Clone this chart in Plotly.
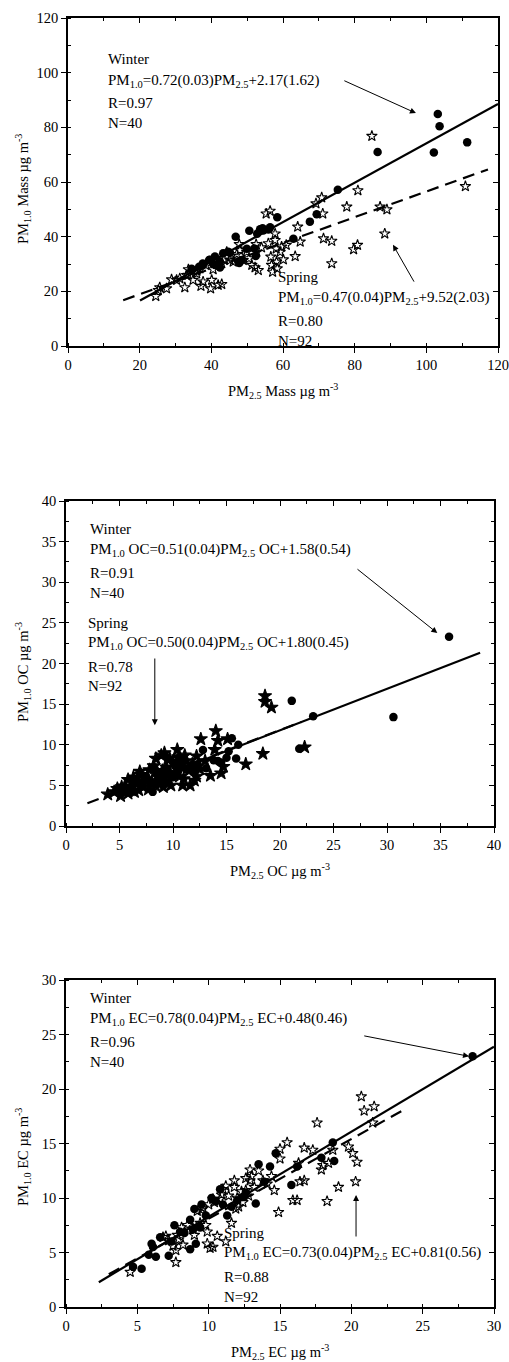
import plotly.graph_objects as go

# ---------------- Panel 1: PM mass ----------------
mass_winter_x = [34.5, 36.6, 37.6, 37.8, 39.4, 39.6, 40.5, 41.0, 41.5, 42.4, 42.4, 43.3, 44.7, 45.2, 46.8,
                 47.5, 47.8, 48.5, 49.9, 50.6, 52.0, 52.4, 52.8, 53.6, 54.3, 54.5, 55.9, 56.4, 58.4, 62.9,
                 67.5, 69.4, 75.3, 86.4, 102.1, 103.2, 103.7, 111.4]
mass_winter_y = [28.3, 29.0, 30.2, 29.9, 31.5, 31.6, 30.0, 32.7, 29.5, 30.9, 28.7, 33.9, 34.5, 34.1, 40.0,
                 30.9, 30.4, 31.5, 35.6, 42.2, 35.7, 32.9, 41.1, 42.7, 43.1, 42.3, 42.6, 43.4, 47.1, 39.2,
                 45.5, 48.2, 57.2, 71.0, 70.8, 84.9, 80.4, 74.5]
mass_spring_x = [24.5, 25.2, 25.6, 27.5, 28.9, 30.3, 31.2, 32.6, 33.1, 33.6, 34.5, 34.9, 35.9, 36.8, 37.1,
                 37.7, 39.8, 40.1, 40.5, 41.9, 42.9, 42.9, 44.3, 45.2, 46.1, 47.1, 47.8, 48.9, 49.9, 51.3,
                 52.2, 52.5, 52.7, 53.1, 55.3, 56.4, 55.9, 56.6, 56.8, 57.1, 57.8, 57.8, 58.1, 58.2, 58.4,
                 59.2, 59.6, 60.1, 60.9, 63.4, 64.1, 64.8, 69.2, 70.8, 71.1, 71.3, 73.6, 73.6, 77.8, 80.9,
                 79.7, 80.8, 84.8, 87.1, 89.0, 88.4, 110.9, 38.5, 43.5, 45.5, 50.5, 54.0, 48.0, 36.0, 33.5]
mass_spring_y = [18.2, 20.4, 21.4, 21.0, 24.3, 24.1, 24.7, 21.4, 25.9, 28.0, 27.1, 24.1, 26.5, 28.3, 21.9,
                 23.5, 21.0, 24.1, 28.0, 22.3, 22.6, 30.2, 34.4, 31.4, 30.8, 33.6, 37.2, 31.4, 34.4, 29.6,
                 28.7, 37.2, 34.4, 27.7, 48.4, 49.4, 37.5, 32.6, 29.6, 27.1, 41.1, 38.7, 35.6, 30.8, 28.3,
                 34.4, 36.3, 31.6, 36.9, 32.8, 43.6, 38.1, 52.1, 54.3, 48.4, 39.3, 38.4, 30.2, 50.9, 56.9,
                 35.3, 36.9, 76.8, 50.9, 49.9, 41.1, 58.4, 29.5, 31.5, 33.0, 32.0, 36.0, 35.0, 27.5, 26.0]

# ---------------- Panel 2: OC ----------------
oc_winter_x = [5.0, 5.5, 6.2, 6.8, 7.3, 7.5, 7.9, 8.1, 8.5, 8.8, 9.2, 9.5, 9.8, 10.2, 10.5, 10.8, 11.3, 11.8,
               12.3, 12.8, 13.1, 13.8, 14.5, 15.0, 15.5, 15.9, 16.1, 21.1, 21.8, 23.1, 30.6, 35.8,
               9.0, 10.0, 11.0, 12.0, 14.2, 15.2, 8.3, 6.0]
oc_winter_y = [4.6, 4.3, 5.0, 5.4, 5.5, 6.1, 5.2, 4.2, 6.5, 5.6, 6.2, 7.0, 6.4, 7.4, 6.8, 7.6, 7.0, 7.5,
               7.6, 9.35, 7.1, 8.1, 7.8, 8.4, 10.8, 8.3, 10.0, 15.4, 9.5, 13.5, 13.4, 23.3,
               5.8, 6.0, 8.0, 6.6, 8.0, 9.2, 7.0, 4.3]
oc_spring_x = [3.9, 4.5, 5.1, 5.2, 5.8, 6.3, 6.4, 6.9, 7.8, 8.4, 8.9, 9.1, 9.7, 9.8, 10.4, 10.6, 11.1, 10.9,
               11.6, 12.2, 12.6, 13.9, 14.0, 14.2, 14.5, 14.7, 15.1, 16.8, 18.4, 18.6, 18.6, 19.2, 22.3,
               6.0, 6.6, 7.2, 7.5, 8.0, 8.6, 9.0, 9.4, 9.6, 10.0, 10.2, 10.8, 11.2, 11.5, 11.8, 12.0, 12.5,
               13.0, 5.5, 4.8, 7.0, 8.2, 9.5, 10.5, 11.0, 7.7, 6.3, 8.8, 13.5, 12.2, 9.2, 10.6, 5.8, 6.8, 8.4]
oc_spring_y = [3.9, 4.2, 3.7, 4.8, 5.7, 5.7, 4.2, 6.7, 6.9, 8.3, 8.7, 4.8, 8.3, 5.0, 9.4, 6.1, 8.7, 5.0,
               5.0, 6.1, 10.7, 9.4, 11.7, 10.5, 6.5, 7.3, 10.7, 7.6, 8.9, 16.0, 15.3, 14.6, 9.7,
               4.6, 5.2, 4.8, 5.8, 5.4, 6.0, 6.8, 7.2, 5.6, 7.8, 6.6, 7.2, 8.0, 6.8, 7.6, 5.6, 7.0,
               8.0, 4.9, 4.6, 6.3, 7.4, 8.2, 8.5, 5.8, 4.5, 6.0, 5.2, 6.2, 8.6, 9.0, 7.9, 4.0, 4.4, 4.9]

# ---------------- Panel 3: EC ----------------
ec_winter_x = [4.7, 5.3, 5.8, 6.0, 6.1, 6.3, 6.6, 7.2, 7.4, 7.6, 8.3, 8.7, 8.7, 8.9, 9.0, 9.1, 9.4, 9.5,
               10.2, 10.8, 11.3, 11.6, 12.0, 12.4, 13.3, 13.5, 13.9, 14.3, 14.7, 15.8, 16.2, 17.9, 18.7,
               18.8, 28.5, 8.0, 10.5, 12.6, 11.0, 9.8]
ec_winter_y = [3.7, 3.5, 4.8, 5.8, 5.5, 4.6, 6.4, 4.7, 6.0, 7.5, 6.8, 8.0, 5.3, 7.1, 9.0, 5.8, 7.3, 9.4,
               10.0, 10.8, 8.4, 9.2, 9.8, 10.1, 9.5, 13.1, 11.5, 12.9, 14.1, 11.2, 12.9, 13.7, 15.1,
               13.4, 23.0, 6.9, 9.7, 10.5, 9.4, 8.4]
ec_spring_x = [4.5, 7.7, 6.8, 7.2, 7.7, 7.9, 8.1, 9.4, 9.5, 9.9, 9.9, 10.1, 10.3, 10.6, 11.2, 10.3, 10.8,
               11.2, 11.6, 11.8, 11.8, 12.1, 12.6, 12.9, 12.9, 13.0, 13.5, 14.1, 14.6, 15.0, 15.5, 15.0,
               14.9, 15.9, 16.2, 16.3, 16.4, 16.7, 16.7, 17.3, 17.6, 18.0, 17.9, 18.3, 18.4, 18.7, 19.1,
               19.8, 20.1, 20.4, 20.3, 21.5, 20.9, 21.6, 20.7, 8.5, 8.9, 9.2, 9.6, 10.0, 10.4, 10.9, 11.4,
               12.0, 12.3, 12.8, 13.2, 13.8, 14.4, 7.0, 7.8, 8.2, 9.0, 9.8, 11.9, 12.4, 12.6, 7.5, 11.0]
ec_spring_y = [3.2, 4.1, 6.4, 6.1, 5.2, 6.2, 7.3, 7.7, 8.9, 6.9, 5.8, 5.4, 5.5, 6.5, 6.0, 9.9, 9.9,
               11.1, 7.7, 11.6, 11.0, 9.2, 10.7, 12.6, 11.6, 12.0, 12.5, 11.3, 10.7, 14.5, 15.1, 13.6,
               8.7, 9.8, 9.8, 13.2, 11.5, 14.6, 11.6, 14.4, 16.9, 13.0, 12.6, 9.7, 13.2, 14.4, 11.0,
               14.7, 14.1, 13.3, 11.5, 16.9, 18.0, 18.4, 19.3, 7.5, 7.2, 8.8, 9.1, 9.4, 9.6, 10.3, 10.2,
               10.0, 10.6, 10.2, 11.0, 11.6, 12.0, 6.5, 6.6, 5.7, 6.6, 7.5, 9.0, 9.6, 11.8, 5.6, 10.8]

# regression fits (slope, intercept) as printed, with x-extent of drawn line
fit_mass_winter = (0.72, 2.17, [20.1, 120.0])
fit_mass_spring = (0.47, 9.52, [15.4, 117.2])
fit_oc_winter = (0.51, 1.58, [4.0, 38.7])
fit_oc_spring = (0.50, 1.80, [2.0, 22.0])
fit_ec_winter = (0.78, 0.48, [2.3, 30.0])
fit_ec_spring = (0.73, 0.81, [3.0, 23.5])

axis_ranges = [(0, 120), (0, 40), (0, 30)]
major_dticks = [20, 5, 5]
minor_dticks = [10, 2.5, 2.5]
x_titles = ["PM<sub>2.5</sub> Mass µg m<sup>-3</sup>", "PM<sub>2.5</sub> OC µg m<sup>-3</sup>",
            "PM<sub>2.5</sub> EC µg m<sup>-3</sup>"]
y_titles = ["PM<sub>1.0</sub> Mass µg m<sup>-3</sup>", "PM<sub>1.0</sub> OC µg m<sup>-3</sup>",
            "PM<sub>1.0</sub> EC µg m<sup>-3</sup>"]

W, H = 509, 1362
FONT = "Liberation Serif"
# pixel boxes of the three plotting areas (left, right, top, bottom)
boxes = [(68, 498, 18, 346), (66, 494, 501, 826), (66, 494, 980, 1307)]
title_y_pix = [391, 871, 1352]
ytitle_y_pix = [189, 672, 1157]

fig = go.Figure()

panels = [
    (mass_winter_x, mass_winter_y, mass_spring_x, mass_spring_y, fit_mass_winter, fit_mass_spring, "star-open"),
    (oc_winter_x, oc_winter_y, oc_spring_x, oc_spring_y, fit_oc_winter, fit_oc_spring, "star"),
    (ec_winter_x, ec_winter_y, ec_spring_x, ec_spring_y, fit_ec_winter, fit_ec_spring, "star-open"),
]

for i, (wx, wy, sx, sy, fw, fs, star_sym) in enumerate(panels):
    xa = "x" if i == 0 else f"x{i+1}"
    ya = "y" if i == 0 else f"y{i+1}"
    # fit lines
    for (m, b, xr), dash in ((fs, "12px,7px"), (fw, "solid")):
        fig.add_trace(go.Scatter(x=xr, y=[m * v + b for v in xr], mode="lines",
                                 line=dict(color="black", width=2.2, dash=dash),
                                 xaxis=xa, yaxis=ya, showlegend=False, hoverinfo="skip"))
    fig.add_trace(go.Scatter(x=sx, y=sy, mode="markers", xaxis=xa, yaxis=ya, showlegend=False,
                             marker=dict(symbol=star_sym, size=10 if star_sym == "star" else 8,
                                         color="black", line=dict(color="black", width=1.1))))
    fig.add_trace(go.Scatter(x=wx, y=wy, mode="markers", xaxis=xa, yaxis=ya, showlegend=False,
                             marker=dict(symbol="circle", size=8.5, color="black")))

layout = dict(width=W, height=H, margin=dict(l=0, r=0, t=0, b=0, autoexpand=False),
              paper_bgcolor="white", plot_bgcolor="white", showlegend=False,
              font=dict(family=FONT, size=14.5, color="black"))

annotations = []
for i in range(3):
    l, r, t, b = boxes[i]
    xd = [l / W, r / W]
    yd = [1 - b / H, 1 - t / H]
    n = "" if i == 0 else str(i + 1)
    common = dict(range=list(axis_ranges[i]), showgrid=False, zeroline=False, showline=True,
                  linecolor="black", linewidth=1.5, tickcolor="black", tickwidth=1.2,
                  dtick=major_dticks[i], tick0=0, fixedrange=True, automargin=False)
    layout[f"xaxis{n}"] = dict(common, domain=xd, anchor=f"y{n}", ticks="outside", ticklen=5,
                               minor=dict(dtick=minor_dticks[i], ticks="inside", ticklen=3,
                                          tickcolor="black", tickwidth=1.2),
                               tickfont=dict(family=FONT, size=14.5, color="black"))
    layout[f"yaxis{n}"] = dict(common, domain=yd, anchor=f"x{n}", ticks="outside", ticklen=5,
                               minor=dict(dtick=minor_dticks[i], ticks="inside", ticklen=3,
                                          tickcolor="black", tickwidth=1.2),
                               tickfont=dict(family=FONT, size=14.5, color="black"))
    # mirrored top / right axes with inside ticks
    k = i + 4
    layout[f"xaxis{k}"] = dict(common, overlaying=f"x{n}", anchor=f"y{n}", side="top", ticks="inside",
                               ticklen=5, showticklabels=False,
                               minor=dict(dtick=minor_dticks[i], ticks="inside", ticklen=3,
                                          tickcolor="black", tickwidth=1.2))
    layout[f"yaxis{k}"] = dict(common, overlaying=f"y{n}", anchor=f"x{n}", side="right", ticks="inside",
                               ticklen=5, showticklabels=False,
                               minor=dict(dtick=minor_dticks[i], ticks="inside", ticklen=3,
                                          tickcolor="black", tickwidth=1.2))
    fig.add_trace(go.Scatter(x=[None], y=[None], xaxis=f"x{k}", yaxis=f"y{k}", showlegend=False,
                             hoverinfo="skip"))
    # axis titles
    annotations.append(dict(text=x_titles[i], xref="paper", yref="paper", x=(l + r) / 2 / W,
                            y=1 - title_y_pix[i] / H, xanchor="center", yanchor="middle",
                            showarrow=False, font=dict(family=FONT, size=14.5, color="black")))
    annotations.append(dict(text=y_titles[i], xref="paper", yref="paper", x=23 / W,
                            y=1 - ytitle_y_pix[i] / H, xanchor="center", yanchor="middle",
                            textangle=-90, showarrow=False,
                            font=dict(family=FONT, size=14.5, color="black")))

# equation texts: (panel, x, [y per line], lines)
text_blocks = [
    (0, 10.6, [105.0, 97.0, 88.9, 81.6],
     ["Winter", "PM<sub>1.0</sub>=0.72(0.03)PM<sub>2.5</sub>+2.17(1.62)", "R=0.97", "N=40"]),
    (0, 58.0, [25.2, 17.6, 9.1, 1.8],
     ["Spring", "PM<sub>1.0</sub>=0.47(0.04)PM<sub>2.5</sub>+9.52(2.03)", "R=0.80", "N=92"]),
    (1, 2.1, [36.55, 33.97, 31.1, 28.7],
     ["Winter", "PM<sub>1.0</sub> OC=0.51(0.04)PM<sub>2.5</sub> OC+1.58(0.54)", "R=0.91", "N=40"]),
    (1, 1.9, [25.0, 22.5, 19.6, 17.2],
     ["Spring", "PM<sub>1.0</sub> OC=0.50(0.04)PM<sub>2.5</sub> OC+1.80(0.45)", "R=0.78", "N=92"]),
    (2, 1.54, [28.35, 26.4, 24.3, 22.5],
     ["Winter", "PM<sub>1.0</sub> EC=0.78(0.04)PM<sub>2.5</sub> EC+0.48(0.46)", "R=0.96", "N=40"]),
    (2, 10.93, [6.79, 4.95, 2.75, 0.92],
     ["Spring", "PM<sub>1.0</sub> EC=0.73(0.04)PM<sub>2.5</sub> EC+0.81(0.56)", "R=0.88", "N=92"]),
]
for p, x0, ys, lines in text_blocks:
    n = "" if p == 0 else str(p + 1)
    for yv, txt in zip(ys, lines):
        annotations.append(dict(text=txt, x=x0, y=yv, xref=f"x{n}", yref=f"y{n}", xanchor="left",
                                yanchor="middle", showarrow=False,
                                font=dict(family=FONT, size=15, color="black")))

# arrows: (panel, tail x, tail y, head x, head y)
arrows = [(0, 76.7, 97.3, 97.1, 85.2), (0, 96.8, 23.0, 90.7, 37.0),
          (1, 27.1, 31.75, 34.7, 23.75), (1, 8.3, 20.8, 8.3, 12.4),
          (2, 20.8, 24.9, 28.25, 23.0), (2, 20.33, 6.33, 20.33, 10.28)]
for p, tx, ty, hx, hy in arrows:
    n = "" if p == 0 else str(p + 1)
    annotations.append(dict(text="", x=hx, y=hy, ax=tx, ay=ty, xref=f"x{n}", yref=f"y{n}",
                            axref=f"x{n}", ayref=f"y{n}", showarrow=True, arrowhead=2,
                            arrowsize=1.2, arrowwidth=1, arrowcolor="black"))

layout["annotations"] = annotations
fig.update_layout(**layout)
fig.write_html("out.html", config={"displayModeBar": False},
               post_script="document.body.style.margin='0px';document.body.style.overflow='hidden';")
